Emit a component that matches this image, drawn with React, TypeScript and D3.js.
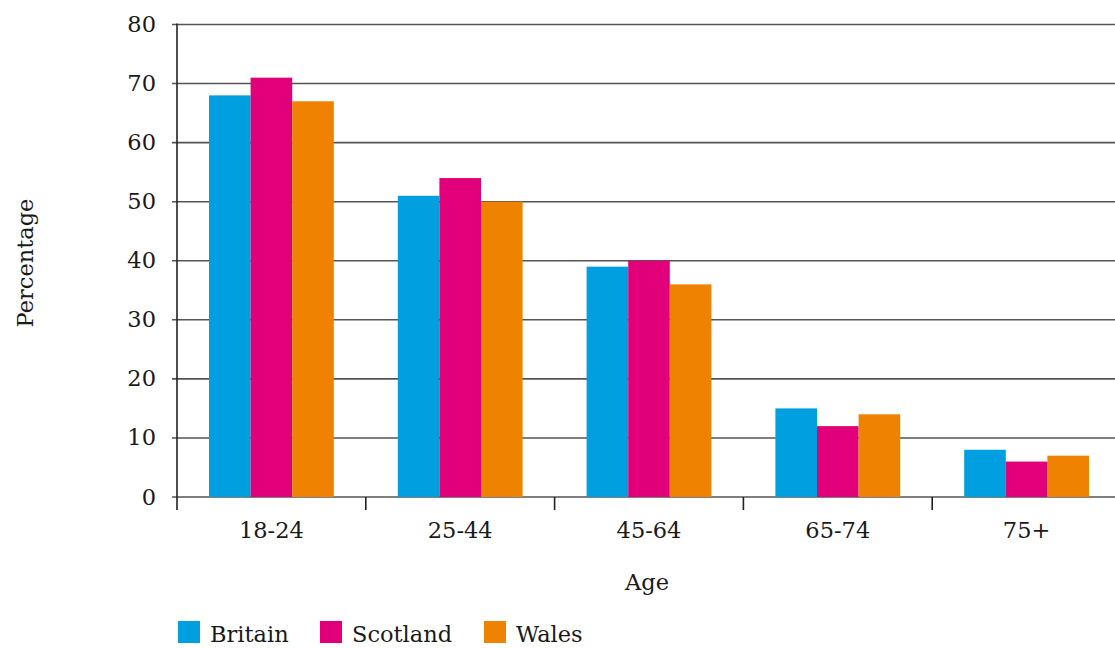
import React from "react";
import * as d3 from "d3";

const categories = ["18-24", "25-44", "45-64", "65-74", "75+"];
const seriesNames = ["Britain", "Scotland", "Wales"];
const britain = [68, 51, 39, 15, 8];
const scotland = [71, 54, 40, 12, 6];
const wales = [67, 50, 36, 14, 7];
const yTicks = [0, 10, 20, 30, 40, 50, 60, 70, 80];
const colors = ["#009FE0", "#E2007A", "#EF8200"];

const W = 1115;
const H = 648;
const left = 177;
const right = 1121;
const top = 24.5;
const bottom = 497;
const FONT = "'DejaVu Serif', Georgia, serif";
const FS = 22.5;

export default function App() {
  const series = [britain, scotland, wales];
  const x = d3.scaleBand<string>().domain(categories).range([left, right]).paddingInner(0).paddingOuter(0);
  const inner = d3.scaleBand<string>().domain(seriesNames).range([32, x.bandwidth() - 32]);
  const y = d3.scaleLinear().domain([0, 80]).range([bottom, top]);

  return (
    <svg width={W} height={H} style={{ position: "absolute", left: 0, top: 0, background: "#fff" }}>
      {yTicks.map((t) => (
        <line key={"g" + t} x1={left - 5} x2={W} y1={y(t)} y2={y(t)} stroke="#555" strokeWidth={1.6} />
      ))}
      {categories.map((c, i) =>
        series.map((s, j) => (
          <rect
            key={c + j}
            x={(x(c) as number) + (inner(seriesNames[j]) as number)}
            y={y(s[i])}
            width={inner.bandwidth()}
            height={y(0) - y(s[i])}
            fill={colors[j]}
          />
        ))
      )}
      <line x1={left} x2={left} y1={top - 1} y2={bottom + 13} stroke="#222" strokeWidth={1.6} />
      {categories.slice(1).map((c) => (
        <line key={"t" + c} x1={x(c)} x2={x(c)} y1={bottom} y2={bottom + 13} stroke="#222" strokeWidth={1.6} />
      ))}
      {yTicks.map((t) => (
        <text key={"yl" + t} x={156} y={y(t) + 7.5} textAnchor="end" fontFamily={FONT} fontSize={FS} fill="#1a1a1a">
          {t}
        </text>
      ))}
      {categories.map((c) => (
        <text
          key={"xl" + c}
          x={(x(c) as number) + x.bandwidth() / 2}
          y={538}
          textAnchor="middle"
          fontFamily={FONT}
          fontSize={FS}
          fill="#1a1a1a"
        >
          {c}
        </text>
      ))}
      <text x={647} y={590} textAnchor="middle" fontFamily={FONT} fontSize={FS} fill="#1a1a1a">
        Age
      </text>
      <text
        transform={`translate(33,263) rotate(-90)`}
        textAnchor="middle"
        fontFamily={FONT}
        fontSize={FS}
        fill="#1a1a1a"
      >
        Percentage
      </text>
      {seriesNames.map((n, j) => {
        const lx = [178, 320, 484][j];
        return (
          <g key={"lg" + n}>
            <rect x={lx} y={621} width={22} height={22} fill={colors[j]} />
            <text x={lx + 32} y={642} fontFamily={FONT} fontSize={FS} fill="#1a1a1a">
              {n}
            </text>
          </g>
        );
      })}
    </svg>
  );
}
